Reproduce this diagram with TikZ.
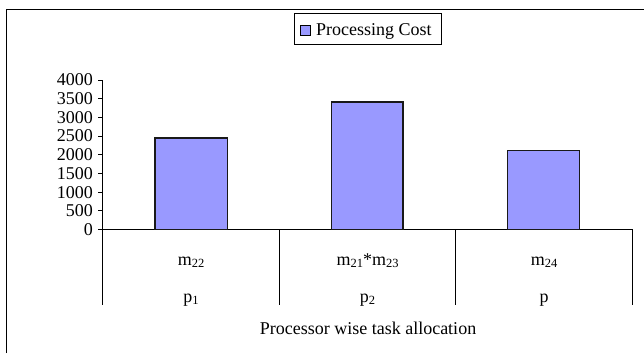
\documentclass[tikz,border=0pt]{standalone}
\usepackage{fontspec}
\setmainfont{Liberation Serif}
\definecolor{barfill}{HTML}{9999FF}
% lowered, smaller index digits as in m_{22}
\newcommand\idx[1]{\raisebox{-0.25ex}{\fontsize{12.5}{12.5}\selectfont #1}}
\begin{document}
\begin{tikzpicture}[x=1pt,y=-1pt,
  txt/.style={font=\fontsize{18}{20}\selectfont, inner sep=0pt},
  bar/.style={draw=black!90, line width=1.6pt, fill=barfill},
  axisline/.style={draw=black, line width=0.9pt},
  frameline/.style={draw=black, line width=1pt}]
\useasboundingbox (0,0) rectangle (644,353);

% outer chart frame (open to the right and bottom)
\draw[frameline] (6.7,353) -- (6.7,10) -- (644,10);

% legend
\node[draw=black, line width=0.8pt, minimum width=147pt, minimum height=31pt,
      inner sep=0pt, anchor=north west] (legend) at (293.5,13.5) {};
\node[draw=black, line width=1pt, fill=barfill, minimum size=10.5pt, inner sep=0pt]
      (legkey) at (305.3,30.3) {};
\node[txt, anchor=base west] (legtext) at (316,36) {Processing Cost};

% value axis
\coordinate (ytop) at (102.5,80);
\coordinate (ybot) at (102.5,305);
\draw[axisline] (ytop) -- (ybot);
\foreach \v [count=\i from 0] in {0,500,1000,1500,2000,2500,3000,3500,4000}{
  \coordinate (t\i) at (102.5,229.5-\i*18.6875);
  \draw[axisline] (t\i) -- ++(-5,0);
  \node[txt, anchor=east] (tl\i) at ([xshift=-9.5pt]t\i) {\v};
}

% category axis with group separators
\coordinate (x0) at (102.5,229.5);
\coordinate (x3) at (632.5,229.5);
\draw[axisline] (x0) -- (x3);
\coordinate (s1) at (279.2,229.5);
\coordinate (s2) at (455.8,229.5);
\draw[axisline] (s1) -- (279.2,305);
\draw[axisline] (s2) -- (455.8,305);
\draw[axisline] (x3) -- (632.5,305);

% bars
\draw[bar] (155,229.5) rectangle (227.5,137.7);
\draw[bar] (331.3,229.5) rectangle (402.7,101.7);
\draw[bar] (507.5,229.5) rectangle (579.5,150.3);

% category labels
\node[txt, anchor=base] (m1) at (191,265) {m\idx{22}};
\node[txt, anchor=base] (m2) at (367.5,265) {m\idx{21}*m\idx{23}};
\node[txt, anchor=base] (m3) at (544,265) {m\idx{24}};
\node[txt, anchor=base] (p1) at (191,302.5) {p\idx{1}};
\node[txt, anchor=base] (p2) at (367.5,302.5) {p\idx{2}};
\node[txt, anchor=base] (p3) at (544,302.5) {p};

% axis title
\node[txt, anchor=base] (xtitle) at (368,334) {Processor wise task allocation};
\end{tikzpicture}
\end{document}
